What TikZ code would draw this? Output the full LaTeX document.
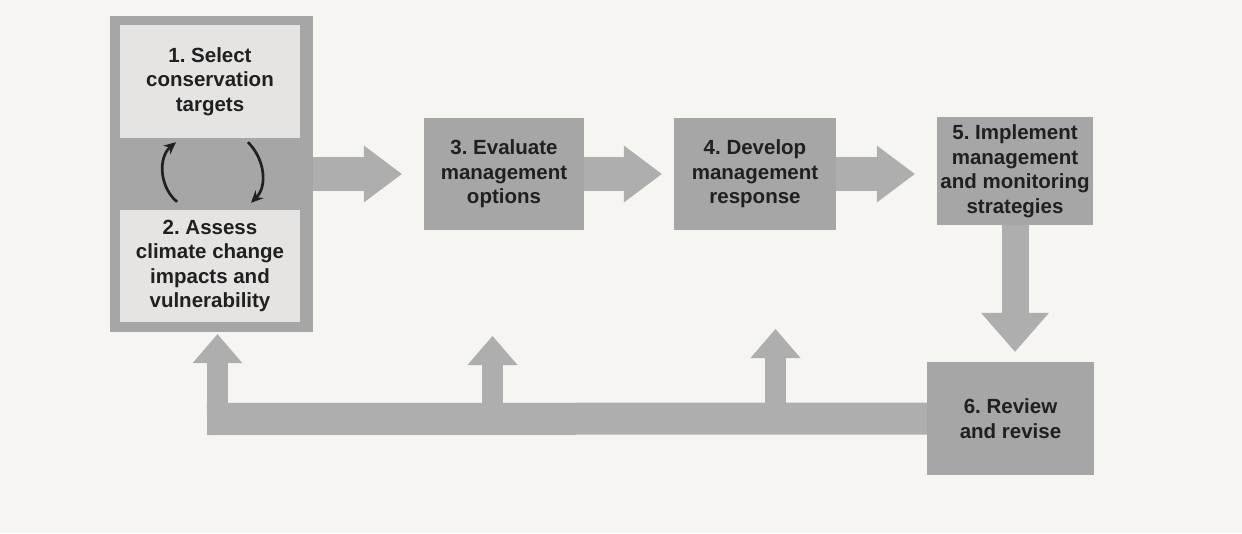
\documentclass[tikz,border=0pt]{standalone}
\usepackage{fontspec}
\setmainfont{Liberation Sans}
\usetikzlibrary{arrows.meta}
\definecolor{bg}{RGB}{246,245,242}
\definecolor{boxgray}{RGB}{166,166,166}
\definecolor{arrgray}{RGB}{174,174,174}
\definecolor{lightbox}{RGB}{229,228,226}
\definecolor{ink}{RGB}{32,32,32}
\frenchspacing
\begin{document}
\begin{tikzpicture}[x=1pt,y=-1pt,
  box/.style={fill=boxgray, inner sep=0pt, align=center, text=ink,
    font=\fontsize{20.5}{24.5}\selectfont\bfseries},
  inbox/.style={box, fill=lightbox},
  harrow/.style={draw=arrgray, line width=34pt,
    -{Triangle[length=38pt,width=57pt,line width=0pt]}},
  varrow/.style={draw=arrgray, line width=27pt,
    -{Triangle[length=39pt,width=68pt,line width=0pt]}},
  stemarrow/.style={draw=arrgray, line width=21pt,
    -{Triangle[length=29pt,width=50pt,line width=0pt]}},
  feedbar/.style={draw=arrgray, line width=32pt},
  cycarrow/.style={draw=ink, line width=2.7pt,
    -{Stealth[length=12pt,width=11pt]}}
]
\fill[bg] (0,0) rectangle (1242,533);
\useasboundingbox (0,0) rectangle (1242,533);

% boxes
\node[box, minimum width=203pt, minimum height=316pt] (outer) at (211.5,174) {};
\node[inbox, minimum width=180pt, minimum height=113pt] (b1) at (210,81.5)
  {1. Select\\conservation\\targets};
\node[inbox, minimum width=180pt, minimum height=112pt] (b2) at (210,266)
  {2. Assess\\climate change\\impacts and\\vulnerability};
\node[box, minimum width=160pt, minimum height=112pt] (b3) at (504,174)
  {3. Evaluate\\management\\options};
\node[box, minimum width=162pt, minimum height=112pt] (b4) at (755,174)
  {4. Develop\\management\\response};
\node[box, minimum width=156pt, minimum height=108pt] (b5) at (1015,171)
  {5. Implement\\management\\and monitoring\\strategies};

% cycle arrows between 1 and 2
\draw[cycarrow] ([xshift=-33pt,yshift=8pt]b2.north) to[out=140,in=220]
  ([xshift=-34pt,yshift=-4pt]b1.south);
\draw[cycarrow] ([xshift=38pt,yshift=-4pt]b1.south) to[out=-45,in=45]
  ([xshift=41pt,yshift=7pt]b2.north);

% forward arrows
\draw[harrow, shorten >=22pt] (outer.east |- b3.west) -- (b3.west);
\draw[harrow, shorten >=12pt] (b3.east) -- (b4.west);
\draw[harrow, shorten >=22pt] (b4.east) -- (b4.east -| b5.west);

% feedback
\coordinate (fl) at (207,419);
\coordinate (s1) at (217.5,419);
\coordinate (s2) at (492.5,419);
\coordinate (t2) at (492.5,336);
\coordinate (s3) at (775.5,419);
\coordinate (t3) at (775.5,329);

\node[box, minimum width=167pt, minimum height=113pt] (b6) at (1010.5,418.5)
  {6. Review\\and revise};
\draw[varrow, shorten >=10pt] (b5.south) -- (b5.south |- b6.north);

\draw[feedbar] (b6.west) -- (fl);
\draw[stemarrow] (s1) -- ([yshift=-2pt]s1 |- outer.south);
\draw[stemarrow] (s2) -- (t2);
\draw[stemarrow] (s3) -- (t3);
\end{tikzpicture}
\end{document}
